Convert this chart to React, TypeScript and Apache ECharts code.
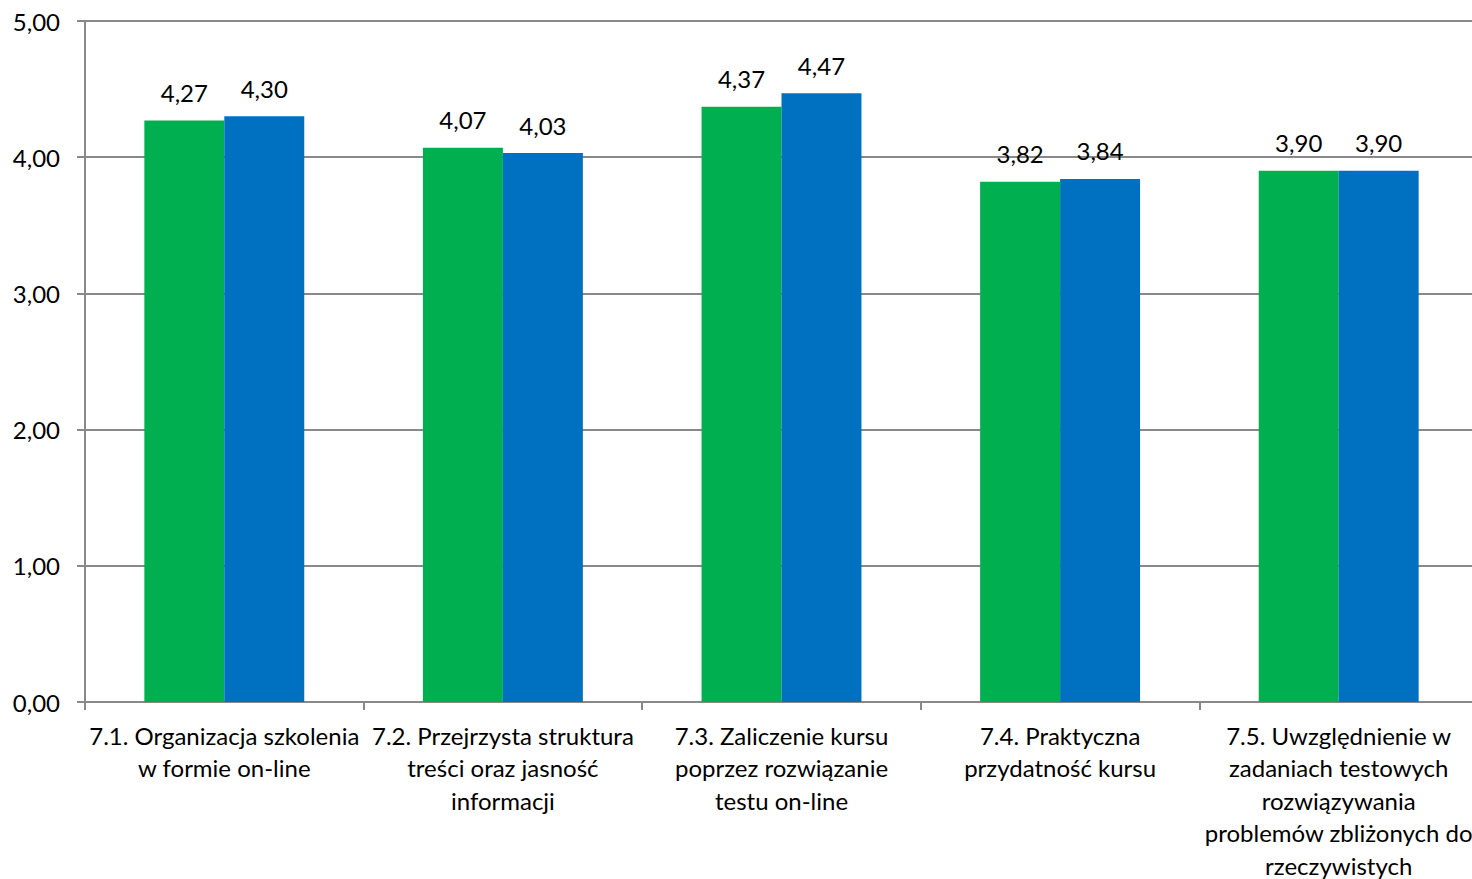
import React, { useEffect, useRef } from "react";
import * as echarts from "echarts";

const categories: string[] = [
  "7.1. Organizacja szkolenia\nw formie on-line",
  "7.2. Przejrzysta struktura\ntreści oraz jasność\ninformacji",
  "7.3. Zaliczenie kursu\npoprzez rozwiązanie\ntestu on-line",
  "7.4. Praktyczna\nprzydatność kursu",
  "7.5. Uwzględnienie w\nzadaniach testowych\nrozwiązywania\nproblemów zbliżonych do\nrzeczywistych",
];
const greenValues: number[] = [4.27, 4.07, 4.37, 3.82, 3.9];
const blueValues: number[] = [4.3, 4.03, 4.47, 3.84, 3.9];

const FONT = "Lato";
const FS = 24;
const fmt = (v: number) => v.toFixed(2).replace(".", ",");

export default function App() {
  const ref = useRef<HTMLDivElement>(null);
  useEffect(() => {
    document.body.style.margin = "0";
    const chart = echarts.init(ref.current!, undefined, { renderer: "svg" });
    const labelStyle = {
      show: true,
      position: "top" as const,
      distance: 16,
      fontFamily: FONT,
      fontSize: FS,
      color: "#000",
      formatter: (p: any) => fmt(p.value),
    };
    chart.setOption({
      animation: false,
      textStyle: { fontFamily: FONT },
      grid: {
        left: 85,
        top: 21,
        width: 1393,
        bottom: 177,
        containLabel: false,
        outerBoundsMode: "none",
      },
      xAxis: {
        type: "category",
        data: categories,
        boundaryGap: true,
        axisLine: { lineStyle: { color: "#898989", width: 2 } },
        axisTick: { show: true, interval: 0, length: 8, lineStyle: { color: "#898989", width: 2 } },
        axisLabel: {
          interval: 0,
          margin: 17,
          fontFamily: FONT,
          fontSize: FS,
          color: "#000",
          lineHeight: 32.5,
          align: "center",
        },
      },
      yAxis: {
        type: "value",
        min: 0,
        max: 5,
        interval: 1,
        axisLine: { show: true, lineStyle: { color: "#898989", width: 2 } },
        axisTick: { show: true, length: 8, lineStyle: { color: "#898989", width: 2 } },
        splitLine: { show: true, lineStyle: { color: "#898989", width: 2 } },
        axisLabel: {
          margin: 25,
          fontFamily: FONT,
          fontSize: FS,
          color: "#000",
          formatter: (v: number) => fmt(v),
        },
      },
      series: [
        {
          type: "bar",
          data: greenValues,
          itemStyle: { color: "#00B050" },
          barGap: "0%",
          barCategoryGap: "42.6%",
          label: labelStyle,
        },
        {
          type: "bar",
          data: blueValues,
          itemStyle: { color: "#0070C0" },
          barGap: "0%",
          barCategoryGap: "42.6%",
          label: labelStyle,
        },
      ],
    });
    return () => chart.dispose();
  }, []);
  return (
    <div
      ref={ref}
      style={{ position: "fixed", left: 0, top: 0, width: 1472, height: 879, background: "#fff" }}
    />
  );
}
